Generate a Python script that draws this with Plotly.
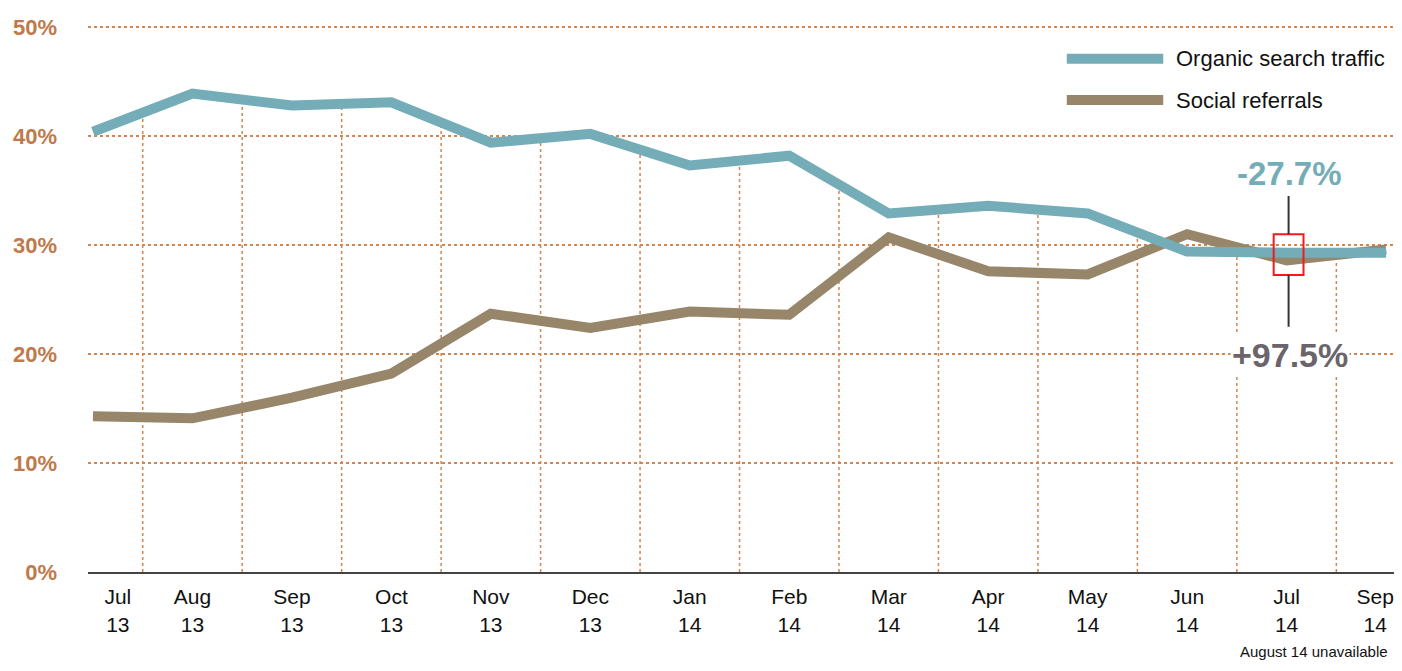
import plotly.graph_objects as go

# ----- Data -----
months = ["Jul<br>13", "Aug<br>13", "Sep<br>13", "Oct<br>13", "Nov<br>13", "Dec<br>13",
          "Jan<br>14", "Feb<br>14", "Mar<br>14", "Apr<br>14", "May<br>14", "Jun<br>14",
          "Jul<br>14", "Sep<br>14"]
organic = [40.4, 43.9, 42.8, 43.1, 39.4, 40.2, 37.3, 38.2, 32.9, 33.6, 32.9, 29.4, 29.3, 29.3]
social = [14.3, 14.1, 16.0, 18.2, 23.7, 22.4, 23.9, 23.6, 30.7, 27.6, 27.3, 31.0, 28.6, 29.6]
y_ticks = [0, 10, 20, 30, 40, 50]

TEAL = "#74adb8"
BROWN = "#978669"
GRID = "#d3844f"
FONT = "Liberation Sans, Arial, sans-serif"

x = list(range(len(months)))
# first and last labels are pulled inward so they stay inside the frame
tick_pos = [0.25] + x[1:-1] + [12.89]

# dotted drop lines between months, running up to the organic line
drop_x, drop_y = [], []
for i in range(len(x) - 1):
    drop_x += [i + 0.5, i + 0.5, None]
    drop_y += [0, (organic[i] + organic[i + 1]) / 2, None]

fig = go.Figure()
fig.add_trace(go.Scatter(x=drop_x, y=drop_y, mode="lines",
                         line=dict(color=GRID, width=1.5, dash="dot"),
                         hoverinfo="skip", showlegend=False))
fig.add_trace(go.Scatter(x=x, y=social, mode="lines", name="Social referrals",
                         line=dict(color=BROWN, width=10)))
fig.add_trace(go.Scatter(x=x, y=organic, mode="lines", name="Organic search traffic",
                         line=dict(color=TEAL, width=10)))

# ----- manual legend -----
for yy, col, label in [(47.1, TEAL, "Organic search traffic"), (43.3, BROWN, "Social referrals")]:
    fig.add_shape(type="line", x0=9.79, x1=10.76, y0=yy, y1=yy,
                  line=dict(color=col, width=10), layer="above")
    fig.add_annotation(x=10.87, y=yy, text=label, showarrow=False, xanchor="left",
                       font=dict(family=FONT, size=22, color="#111"))

# ----- highlight box for Jul 14 -----
fig.add_shape(type="rect", x0=11.87, x1=12.17, y0=27.25, y1=31.0,
              line=dict(color="#ee1c1c", width=2), layer="above")
fig.add_shape(type="line", x0=12.02, x1=12.02, y0=31.0, y1=34.5,
              line=dict(color="#333", width=2))
fig.add_shape(type="line", x0=12.02, x1=12.02, y0=22.5, y1=27.25,
              line=dict(color="#333", width=2))
fig.add_annotation(x=12.03, y=36.6, text="<b>-27.7%</b>", showarrow=False,
                   font=dict(family=FONT, size=33, color=TEAL))
fig.add_annotation(x=12.03, y=19.9, text="<b>+97.5%</b>", showarrow=False,
                   bgcolor="white", font=dict(family=FONT, size=34, color="#6b656b"))

fig.add_annotation(x=12.28, y=-0.165, yref="paper", text="August 14 unavailable",
                   showarrow=False, font=dict(family=FONT, size=15, color="#111"))

fig.update_xaxes(range=[-0.05, 13.14], tickvals=tick_pos, ticktext=months,
                 showgrid=False, zeroline=False, showline=True, linecolor="#444", linewidth=2,
                 ticks="", ticklabelstandoff=5, ticklabeloverflow="allow",
                 tickfont=dict(family=FONT, size=21, color="#111"))
fig.update_yaxes(range=[0, 50.1], tickvals=y_ticks, ticktext=[f"<b>{v}%</b>" for v in y_ticks],
                 showgrid=True, gridcolor=GRID, griddash="dot", gridwidth=1.5, zeroline=False,
                 ticklabelstandoff=30,
                 tickfont=dict(family=FONT, size=22, color="#c0794a"))

# page body adds an 8px margin, so the figure is sized and offset to compensate
fig.update_layout(width=1394, height=663, plot_bgcolor="white", paper_bgcolor="white",
                  margin=dict(l=80, r=2, t=18, b=99, autoexpand=False), showlegend=False)

fig.write_html("out.html")
